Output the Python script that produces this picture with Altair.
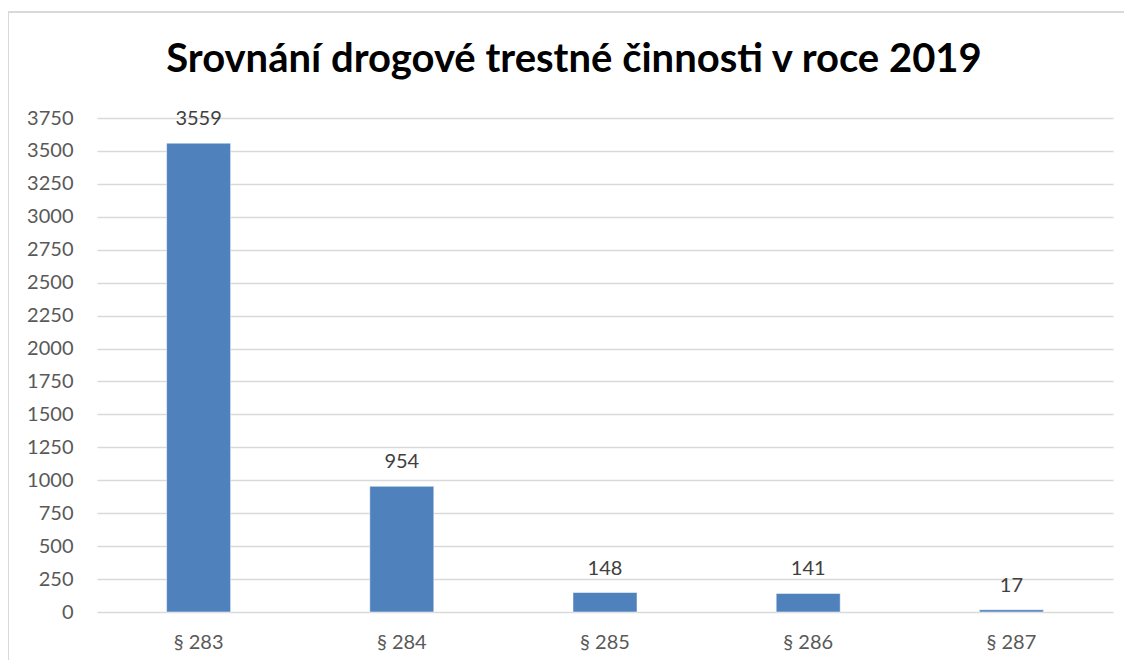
import altair as alt
import pandas as pd

categories = ["§ 283", "§ 284", "§ 285", "§ 286", "§ 287"]
values = [3559, 954, 148, 141, 17]
y_ticks = list(range(0, 3751, 250))

df = pd.DataFrame({"cat": categories, "val": values})

FONT = "Lato"
GRAY = "#595959"

base = alt.Chart(df).encode(
    x=alt.X("cat:N", sort=categories, title=None,
            scale=alt.Scale(paddingInner=0.685, paddingOuter=0.3425),
            axis=alt.Axis(labelAngle=0, labelFontSize=20, labelColor=GRAY, labelFont=FONT,
                          ticks=False, domain=False, labelPadding=20, grid=False)),
    y=alt.Y("val:Q", title=None,
            scale=alt.Scale(domain=[0, 3750], nice=False),
            axis=alt.Axis(values=y_ticks, format="d", labelFontSize=20, labelColor=GRAY, labelFont=FONT,
                          ticks=False, domain=False, labelPadding=24, grid=True,
                          gridColor="#d9d9d9", gridWidth=1.3)),
)

bars = base.mark_bar(color="#4F81BD", stroke="white", strokeWidth=0.5)
labels = base.mark_text(baseline="bottom", dy=-14, fontSize=20, color="#404040", font=FONT).encode(
    text=alt.Text("val:Q")
)

border = alt.Chart(df).mark_rect(fill=None, stroke="#d9d9d9", strokeWidth=1.5).encode(
    x=alt.value(-89), x2=alt.value(1040), y=alt.value(-106), y2=alt.value(600)
)

chart = alt.layer(border, bars, labels).properties(
    width=1016, height=494,
    autosize=alt.AutoSizeParams(type="none"),
    padding={"left": 89, "top": 110, "right": 11, "bottom": 48},
    title=alt.TitleParams("Srovnání drogové trestné činnosti v roce 2019",
                          fontSize=40, font=FONT, fontWeight="bold", color="black",
                          anchor="middle", frame="group", dx=-31, offset=-101,
                          baseline="alphabetic"),
).configure_view(stroke=None)

chart.save("out.html", embed_options={"renderer": "svg", "actions": False})
